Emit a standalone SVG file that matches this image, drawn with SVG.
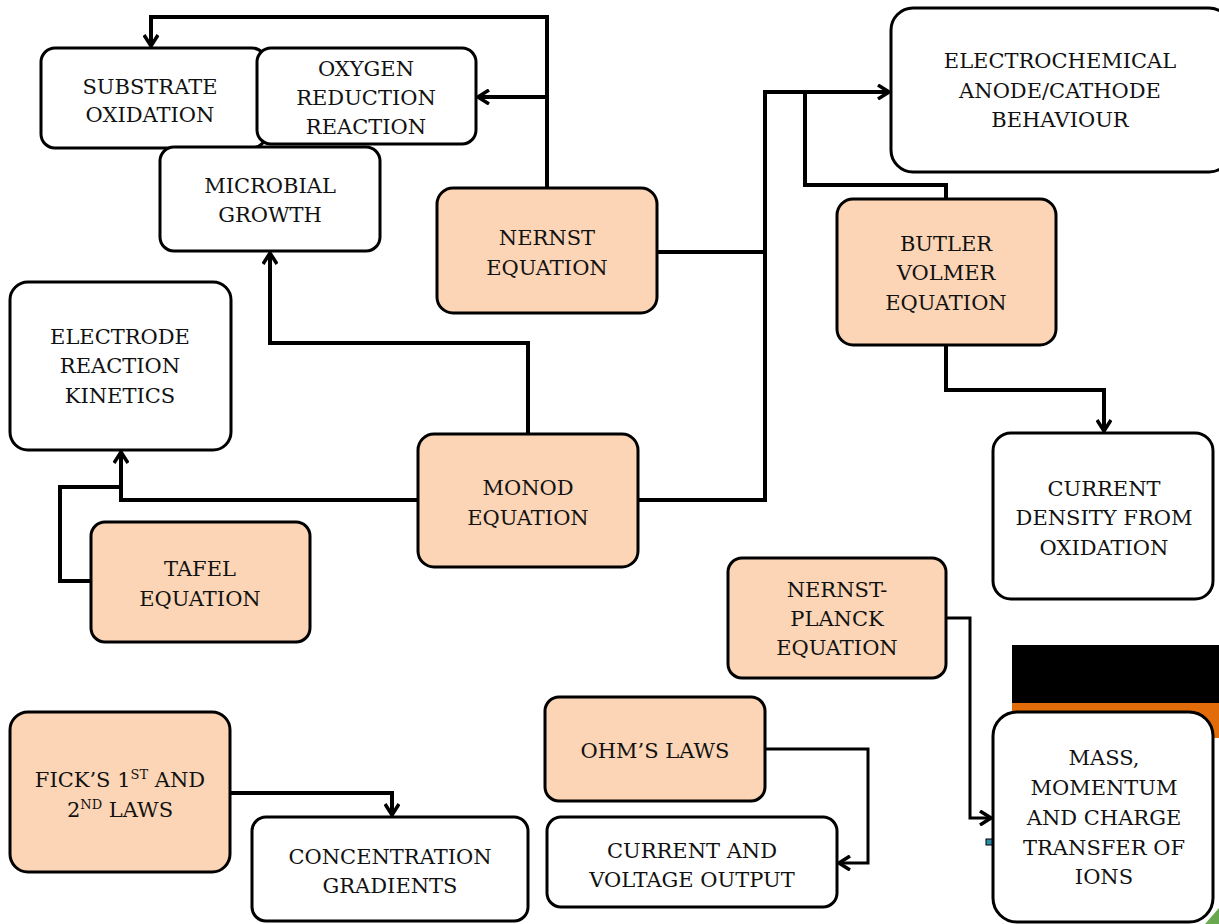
<svg xmlns="http://www.w3.org/2000/svg" width="1219" height="924" viewBox="0 0 1219 924">
<defs>
<style>
.box{fill:#fff;stroke:#000;stroke-width:3}
.eq{fill:#FBD5B5;stroke:#000;stroke-width:3}
.t{font-family:"DejaVu Serif","Liberation Serif",serif;font-size:21px;fill:#111;text-anchor:middle}
.c{fill:none;stroke:#000;stroke-width:4;stroke-linejoin:miter}
.c3{fill:none;stroke:#000;stroke-width:3}
.sup{font-size:13px}
</style>
<marker id="ah2" viewBox="0 0 16 16" refX="13" refY="8" markerWidth="16" markerHeight="16" markerUnits="userSpaceOnUse" orient="auto">
<path d="M2,1 L13,8 L2,15" fill="none" stroke="#000" stroke-width="3.5"/>
</marker>
</defs>
<rect width="1219" height="924" fill="#fff"/>
<g id="decor">
<rect x="1012" y="645" width="207" height="59" fill="#000"/>
<rect x="1012" y="703" width="207" height="35" fill="#E36C0A"/>
<rect x="986" y="839" width="7" height="6" fill="#2E8CA8" stroke="#000" stroke-width="1"/>
<path d="M1205,924 L1219,908 L1219,924 Z" fill="#6AA84F"/>
</g>
<g id="connectors">
<path class="c" d="M547,188 V17 H151 V46" marker-end="url(#ah2)"/>
<path class="c" d="M547,97 H478" marker-end="url(#ah2)"/>
<path class="c" d="M657,252 H765"/>
<path class="c" d="M638,500 H765 V92 H889" marker-end="url(#ah2)"/>
<path class="c" d="M946,199 V185 H805 V92"/>
<path class="c" d="M946,345 V390 H1104 V431" marker-end="url(#ah2)"/>
<path class="c" d="M528,434 V343 H270 V253" marker-end="url(#ah2)"/>
<path class="c" d="M418,500 H121 V452" marker-end="url(#ah2)"/>
<path class="c" d="M91,581 H60 V487 H121"/>
<path class="c" d="M230,793 H392 V815" marker-end="url(#ah2)"/>
<path class="c3" d="M765,749 H868 V863 H839" marker-end="url(#ah2)"/>
<path class="c3" d="M946,618 H970 V818 H991" marker-end="url(#ah2)"/>
</g>
<g id="substrate">
<rect class="box" x="41" y="48" width="225" height="100" rx="14"/>
<text class="t" x="150" y="94">SUBSTRATE</text>
<text class="t" x="150" y="122">OXIDATION</text>
</g>
<g id="orr">
<rect class="box" x="257" y="48" width="219" height="96" rx="14"/>
<text class="t" x="366" y="76">OXYGEN</text>
<text class="t" x="366" y="105">REDUCTION</text>
<text class="t" x="366" y="134">REACTION</text>
</g>
<g id="microbial">
<rect class="box" x="160" y="147" width="220" height="104" rx="14"/>
<text class="t" x="270" y="193">MICROBIAL</text>
<text class="t" x="270" y="222">GROWTH</text>
</g>
<g id="nernst">
<rect class="eq" x="437" y="188" width="220" height="125" rx="16"/>
<text class="t" x="547" y="245">NERNST</text>
<text class="t" x="547" y="275">EQUATION</text>
</g>
<g id="electrochemical">
<rect class="box" x="891" y="8" width="340" height="164" rx="22"/>
<text class="t" x="1060" y="68">ELECTROCHEMICAL</text>
<text class="t" x="1060" y="98">ANODE/CATHODE</text>
<text class="t" x="1060" y="127">BEHAVIOUR</text>
</g>
<g id="butler">
<rect class="eq" x="837" y="199" width="219" height="146" rx="16"/>
<text class="t" x="946" y="251">BUTLER</text>
<text class="t" x="946" y="280">VOLMER</text>
<text class="t" x="946" y="310">EQUATION</text>
</g>
<g id="current-density">
<rect class="box" x="993" y="433" width="220" height="166" rx="18"/>
<text class="t" x="1104" y="496">CURRENT</text>
<text class="t" x="1104" y="525">DENSITY FROM</text>
<text class="t" x="1104" y="555">OXIDATION</text>
</g>
<g id="electrode">
<rect class="box" x="10" y="282" width="221" height="168" rx="18"/>
<text class="t" x="120" y="344">ELECTRODE</text>
<text class="t" x="120" y="373">REACTION</text>
<text class="t" x="120" y="403">KINETICS</text>
</g>
<g id="monod">
<rect class="eq" x="418" y="434" width="220" height="133" rx="16"/>
<text class="t" x="528" y="495">MONOD</text>
<text class="t" x="528" y="525">EQUATION</text>
</g>
<g id="tafel">
<rect class="eq" x="91" y="522" width="219" height="120" rx="14"/>
<text class="t" x="200" y="576">TAFEL</text>
<text class="t" x="200" y="606">EQUATION</text>
</g>
<g id="nernst-planck">
<rect class="eq" x="728" y="558" width="218" height="120" rx="14"/>
<text class="t" x="837" y="597">NERNST-</text>
<text class="t" x="837" y="626">PLANCK</text>
<text class="t" x="837" y="655">EQUATION</text>
</g>
<g id="fick">
<rect class="eq" x="10" y="712" width="220" height="160" rx="18"/>
<text class="t" x="120" y="787">FICK’S 1<tspan class="sup" dy="-8">ST</tspan><tspan dy="8"> AND</tspan></text>
<text class="t" x="120" y="817">2<tspan class="sup" dy="-8">ND</tspan><tspan dy="8"> LAWS</tspan></text>
</g>
<g id="concentration">
<rect class="box" x="252" y="817" width="276" height="104" rx="14"/>
<text class="t" x="390" y="864">CONCENTRATION</text>
<text class="t" x="390" y="893">GRADIENTS</text>
</g>
<g id="ohm">
<rect class="eq" x="545" y="697" width="220" height="104" rx="14"/>
<text class="t" x="655" y="758">OHM’S LAWS</text>
</g>
<g id="current-voltage">
<rect class="box" x="547" y="817" width="290" height="90" rx="14"/>
<text class="t" x="692" y="858">CURRENT AND</text>
<text class="t" x="692" y="887">VOLTAGE  OUTPUT</text>
</g>
<g id="mass">
<rect class="box" x="993" y="712" width="220" height="210" rx="24"/>
<text class="t" x="1104" y="765">MASS,</text>
<text class="t" x="1104" y="795">MOMENTUM</text>
<text class="t" x="1104" y="825">AND CHARGE</text>
<text class="t" x="1104" y="855">TRANSFER OF</text>
<text class="t" x="1104" y="884">IONS</text>
</g>
</svg>
